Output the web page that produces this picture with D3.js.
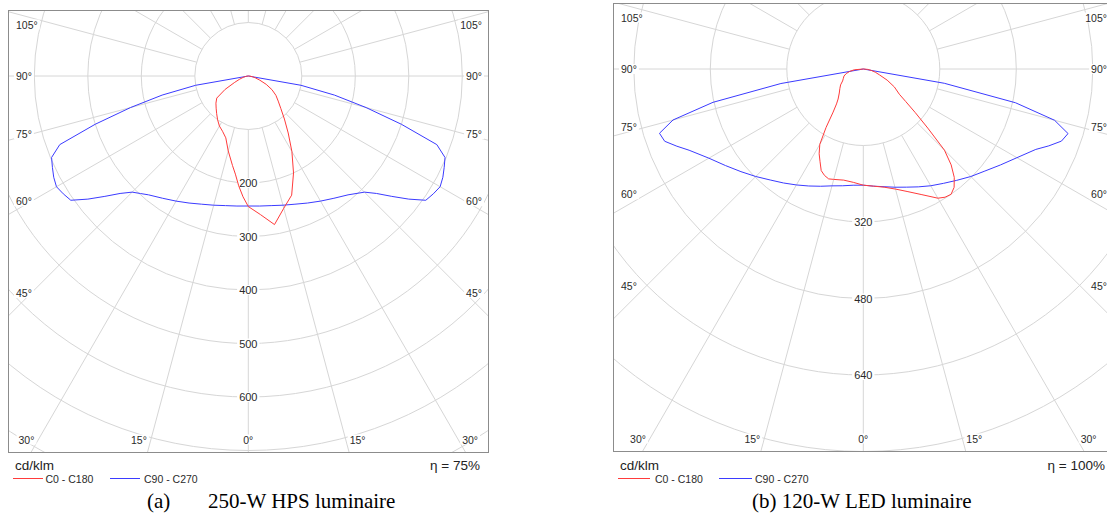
<!DOCTYPE html>
<html><head><meta charset="utf-8">
<script src="https://cdn.jsdelivr.net/npm/d3@7/dist/d3.min.js"></script>
<style>
body{margin:0;background:#fff;}
svg{display:block;}
text{font-family:"Liberation Sans",Arial,sans-serif;}
text.cap{font-family:"Liberation Serif","Times New Roman",serif;}
</style>
</head><body>
<svg id="chart" width="1107" height="513"></svg>
<script>
// ---------------- DATA ----------------
const degreeLabels = [105, 90, 75, 60, 45, 30, 15, 0];
const seriesNames = ["C0 - C180", "C90 - C270"];

// (a) 250-W HPS luminaire  (cd/klm)
const hpsRings = [100, 200, 300, 400, 500, 600, 700, 800, 900];
const hpsRingLabels = [200, 300, 400, 500, 600];
const hpsC0Gamma   = [0, 5, 10, 15, 20, 25, 30, 35, 40, 45, 50, 55, 60, 65, 70, 75, 80, 85, 90];
const hpsC0        = [244, 260, 282, 256, 237, 200, 163, 130, 105, 86, 73, 63, 51, 37, 23, 14, 8, 3, 0];
const hpsC180Gamma = [0, 2.5, 5, 7.5, 10, 15, 20, 25, 30, 35, 40, 45, 50, 55, 60, 65, 70, 75, 80, 85, 90];
const hpsC180      = [244, 226, 206, 185, 170, 145, 123, 114, 108, 100, 92, 85, 79, 72, 50, 28, 17, 10, 5, 2, 0];
const hpsC90Gamma  = [0, 5, 10, 15, 20, 25, 30, 35, 40, 42.5, 45, 47.5, 50, 52.5, 55, 57.5, 60, 62.5, 65, 67.5, 70, 72.5, 75, 77.5, 80, 90];
const hpsC90       = [243, 244, 246, 250, 255, 262, 270, 279, 290, 298, 307, 325, 350, 378, 405, 410, 414, 410, 404, 398, 375, 300, 228, 165, 100, 0];
const hpsC270      = [243, 244, 246, 250, 255, 262, 270, 279, 290, 298, 307, 325, 350, 378, 405, 410, 414, 410, 404, 398, 375, 300, 228, 165, 100, 0];
const hpsEta = "η = 75%";

// (b) 120-W LED luminaire  (cd/klm)
const ledRings = [160, 320, 480, 640, 800, 960, 1120];
const ledRingLabels = [320, 480, 640];
const ledC0Gamma   = [0, 5, 10, 15, 20, 25, 30, 32.5, 35, 37.5, 40, 42.5, 45, 47.5, 50, 52.5, 55, 60, 65, 70, 75, 80, 85, 90];
const ledC0        = [243, 246, 251, 260, 273, 290, 312, 318, 320, 312, 296, 272, 240, 183, 142, 112, 92, 75, 55, 36, 26, 17, 9, 0];
const ledC180Gamma = [0, 5, 10, 15, 17.5, 20, 22.5, 25, 27.5, 30, 32.5, 35, 37.5, 40, 45, 50, 55, 60, 65, 70, 75, 80, 85, 90];
const ledC180      = [243, 238, 236, 239, 241, 237, 230, 214, 200, 182, 145, 110, 92, 82, 71, 64, 58, 50, 46, 43, 37, 29, 19, 0];
const ledC90Gamma  = [0, 5, 10, 15, 20, 25, 30, 35, 40, 45, 50, 55, 60, 65, 67.5, 70, 72.5, 75, 77.5, 80, 90];
const ledC90       = [243, 246, 250, 256, 263, 272, 282, 292, 304, 318, 332, 350, 371, 398, 420, 441, 449, 414, 326, 172, 0];
const ledC270      = [243, 244, 248, 253, 261, 270, 280, 291, 303, 318, 334, 352, 373, 402, 422, 442, 447, 412, 322, 175, 0];
const ledEta = "η = 100%";

// ---------------- DRAW ----------------
const svg = d3.select("#chart");
const RED = "#ff3b3b", BLUE = "#3b3bff", GRID = "#d6d6d6", TXT = "#2a2a2a";

const panels = [
  { id: "a", frame: {x: 8, y: 10, w: 480, h: 442}, cx: 248.3, cy: 76, unit: 100, unitPx: 53.5,
    rings: hpsRings, ringLabels: hpsRingLabels,
    c0: [hpsC0Gamma, hpsC0], c180: [hpsC180Gamma, hpsC180],
    c90: [hpsC90Gamma, hpsC90], c270: [hpsC90Gamma, hpsC270], eta: hpsEta,
    leg: {r0: 5, r1: 35, t1: 37.5, b0: 102, b1: 132, t2: 136},
    caption: [{x: 147, t: "(a)"}, {x: 208, t: "250-W HPS luminaire"}] },
  { id: "b", frame: {x: 613, y: 3, w: 500, h: 448}, cx: 863.3, cy: 69, unit: 160, unitPx: 76.5,
    rings: ledRings, ringLabels: ledRingLabels,
    c0: [ledC0Gamma, ledC0], c180: [ledC180Gamma, ledC180],
    c90: [ledC90Gamma, ledC90], c270: [ledC90Gamma, ledC270], eta: ledEta,
    leg: {r0: 5, r1: 37, t1: 42, b0: 106, b1: 139, t2: 142},
    caption: [{x: 752, t: "(b) 120-W LED luminaire"}] }
];

function labelWithBg(g, x, y, txt, anchor, size) {
  const grp = g.append("g");
  const t = grp.append("text").attr("x", x).attr("y", y)
    .attr("text-anchor", anchor).attr("dominant-baseline", "central")
    .attr("font-size", size).attr("fill", TXT).text(txt);
  const b = t.node().getBBox();
  grp.insert("rect", "text").attr("x", b.x - 2).attr("y", b.y + 1)
    .attr("width", b.width + 4).attr("height", b.height - 2).attr("fill", "#fff");
}

panels.forEach(p => {
  const f = p.frame;
  const r = d3.scaleLinear().domain([0, p.unit]).range([0, p.unitPx]);
  const clipId = "clip-" + p.id;
  svg.append("clipPath").attr("id", clipId).append("rect")
    .attr("x", f.x).attr("y", f.y).attr("width", f.w).attr("height", f.h);

  const root = svg.append("g").attr("clip-path", `url(#${clipId})`);
  const g = root.append("g").attr("transform", `translate(${p.cx},${p.cy})`);

  // rings
  g.selectAll("circle.ring").data(p.rings).join("circle")
    .attr("r", d => r(d)).attr("fill", "none").attr("stroke", GRID).attr("stroke-width", 1);

  // radial lines every 15°, starting at first ring
  const r0 = r(p.rings[0]);
  g.selectAll("line.rad").data(d3.range(0, 360, 15)).join("line")
    .attr("x1", d => r0 * Math.sin(d * Math.PI / 180))
    .attr("y1", d => r0 * Math.cos(d * Math.PI / 180))
    .attr("x2", d => 800 * Math.sin(d * Math.PI / 180))
    .attr("y2", d => 800 * Math.cos(d * Math.PI / 180))
    .attr("stroke", GRID).attr("stroke-width", 1);

  // ring value labels along 0° axis
  p.ringLabels.forEach(v => labelWithBg(g, 0, r(v), String(v), "middle", 11));

  // degree labels
  const top = f.y + 14.5, bottom = f.y + f.h - 12.5;
  const sideDx = 217;
  degreeLabels.forEach(deg => {
    const rad = deg * Math.PI / 180;
    if (deg >= 45) {
      let y = deg === 90 ? p.cy : p.cy + sideDx / Math.tan(rad);
      y = Math.max(top, Math.min(bottom, y));
      labelWithBg(root, f.x + 8, y, deg + "°", "start", 10.5);
      labelWithBg(root, f.x + f.w - 6, y, deg + "°", "end", 10.5);
    } else {
      const dx = (bottom - p.cy) * Math.tan(rad);
      if (deg === 0) {
        labelWithBg(root, p.cx, bottom, "0°", "middle", 10.5);
      } else {
        labelWithBg(root, p.cx - dx - 4, bottom, deg + "°", "end", 10.5);
        labelWithBg(root, p.cx + dx + 4, bottom, deg + "°", "start", 10.5);
      }
    }
  });

  // curves
  const line = d3.lineRadial().angle(d => d.a).radius(d => r(d.v)).curve(d3.curveLinear);
  function plane(left, right) {
    const L = left[0].map((gm, i) => ({a: Math.PI + gm * Math.PI / 180, v: left[1][i]})).reverse();
    const R = right[0].map((gm, i) => ({a: Math.PI - gm * Math.PI / 180, v: right[1][i]}));
    return L.concat(R);
  }
  g.append("path").attr("d", line(plane(p.c270, p.c90)))
    .attr("fill", "none").attr("stroke", BLUE).attr("stroke-width", 1);
  g.append("path").attr("d", line(plane(p.c180, p.c0)))
    .attr("fill", "none").attr("stroke", RED).attr("stroke-width", 1);

  // frame
  svg.append("rect").attr("x", f.x + 0.5).attr("y", f.y + 0.5).attr("width", f.w).attr("height", f.h)
    .attr("fill", "none").attr("stroke", "#8c8c8c").attr("stroke-width", 1);

  // footer texts
  svg.append("text").attr("x", f.x + 7).attr("y", 465).attr("dominant-baseline", "central")
    .attr("font-size", 13.5).attr("fill", "#222").text("cd/klm");
  svg.append("text").attr("x", f.x + f.w - 8).attr("y", 465).attr("dominant-baseline", "central")
    .attr("text-anchor", "end").attr("font-size", 13.5).attr("fill", "#222").text(p.eta);

  const ly = 478.5;
  svg.append("line").attr("x1", f.x + p.leg.r0).attr("x2", f.x + p.leg.r1).attr("y1", ly).attr("y2", ly)
    .attr("stroke", RED).attr("stroke-width", 1);
  svg.append("text").attr("x", f.x + p.leg.t1).attr("y", ly).attr("dominant-baseline", "central")
    .attr("font-size", 10.5).attr("fill", TXT).text(seriesNames[0]);
  svg.append("line").attr("x1", f.x + p.leg.b0).attr("x2", f.x + p.leg.b1).attr("y1", ly).attr("y2", ly)
    .attr("stroke", BLUE).attr("stroke-width", 1);
  svg.append("text").attr("x", f.x + p.leg.t2).attr("y", ly).attr("dominant-baseline", "central")
    .attr("font-size", 10.5).attr("fill", TXT).text(seriesNames[1]);

  p.caption.forEach(c => {
    svg.append("text").attr("class", "cap").attr("x", c.x).attr("y", 508)
      .attr("font-size", 21).attr("fill", "#000").text(c.t);
  });
});
</script>
</body></html>
